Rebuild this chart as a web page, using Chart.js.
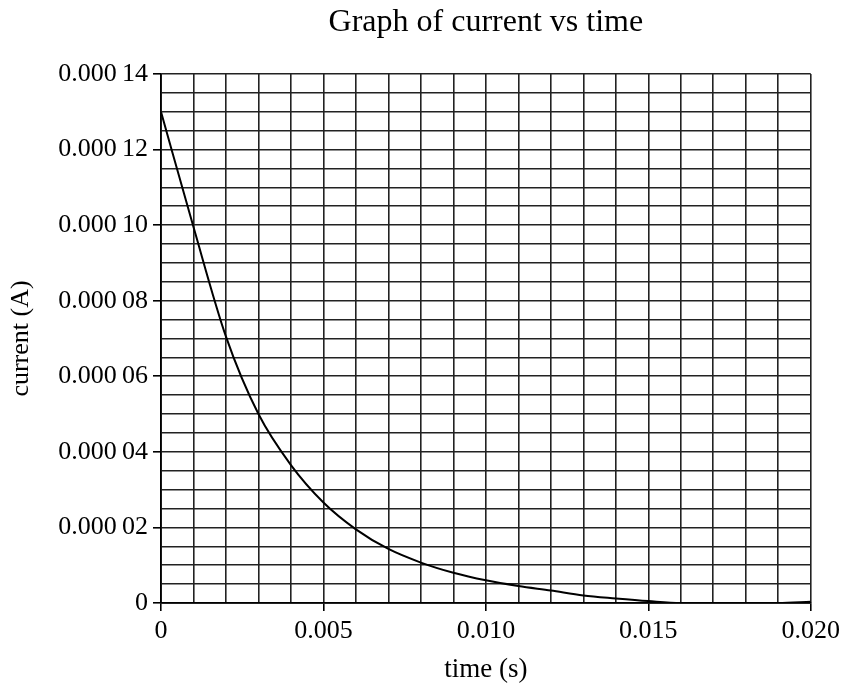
<!DOCTYPE html>
<html>
<head>
<meta charset="utf-8">
<script src="https://cdn.jsdelivr.net/npm/chart.js@4/dist/chart.umd.min.js"></script>
<style>
  html, body { margin: 0; padding: 0; background: #fff; }
  #wrap { width: 845px; height: 688px; }
</style>
</head>
<body>
<div id="wrap"><canvas id="c" width="845" height="688"></canvas></div>
<script>
// time (s)
const times = [0, 0.001, 0.002, 0.003, 0.004, 0.005, 0.006, 0.007, 0.008, 0.009, 0.010,
               0.011, 0.012, 0.013, 0.014, 0.015, 0.016, 0.017, 0.018, 0.019, 0.020];
// current (A)
const currents = [0.000130, 0.0000995, 0.0000705, 0.0000500, 0.0000365, 0.0000266, 0.0000195,
                  0.0000143, 0.0000107, 0.0000080, 0.0000060, 0.0000045, 0.0000033, 0.0000020,
                  0.0000012, 0.0000005, 0.0, 0.0, 0.0, 0.0, 0.0000003];
// tick labels
const xTickValues = [0, 0.005, 0.010, 0.015, 0.020];
const xTickLabels = ['0', '0.005', '0.010', '0.015', '0.020'];
const yTickValues = [0, 0.00002, 0.00004, 0.00006, 0.00008, 0.00010, 0.00012, 0.00014];
const yTickLabels = ['0', '0.000\u200902', '0.000\u200904', '0.000\u200906', '0.000\u200908',
                     '0.000\u200910', '0.000\u200912', '0.000\u200914'];

const SERIF = '"Liberation Serif", "Times New Roman", serif';

function findLabel(vals, labels, v, tol) {
  for (let i = 0; i < vals.length; i++) {
    if (Math.abs(vals[i] - v) < tol) return labels[i];
  }
  return null;
}

const points = times.map((t, i) => ({ x: t, y: currents[i] }));

new Chart(document.getElementById('c'), {
  type: 'line',
  data: {
    datasets: [{
      data: points,
      borderColor: '#000',
      borderWidth: 2,
      pointRadius: 0,
      fill: false,
      cubicInterpolationMode: 'monotone'
    }]
  },
  options: {
    responsive: false,
    animation: false,
    devicePixelRatio: 1,
    layout: { padding: { left: 0, right: 32, top: 0, bottom: 0 } },
    plugins: {
      legend: { display: false },
      tooltip: { enabled: false },
      title: {
        display: true,
        text: 'Graph of current vs time',
        color: '#000',
        fullSize: false,
        font: { family: SERIF, size: 32, weight: 'normal', lineHeight: 1.2 },
        padding: { top: 3, bottom: 74 - 3 - 38.4 }
      }
    },
    scales: {
      x: {
        type: 'linear',
        min: 0,
        max: 0.020,
        afterFit: (s) => { s.height = 85; },
        ticks: {
          stepSize: 0.001,
          autoSkip: false,
          maxRotation: 0,
          padding: 5,
          color: '#000',
          font: { family: SERIF, size: 26 },
          callback: (v) => findLabel(xTickValues, xTickLabels, v, 1e-7) ?? ''
        },
        grid: {
          color: '#222',
          lineWidth: 1.6,
          tickLength: 8,
          tickColor: (ctx) => (ctx.tick && findLabel(xTickValues, xTickLabels, ctx.tick.value, 1e-7) !== null) ? '#000' : 'rgba(0,0,0,0)'
        },
        border: { color: '#000', width: 1.8 },
        title: {
          display: true,
          text: 'time (s)',
          color: '#000',
          font: { family: SERIF, size: 27 },
          padding: { top: 0, bottom: 2 }
        }
      },
      y: {
        type: 'linear',
        min: 0,
        max: 0.00014,
        afterFit: (s) => { s.width = 161; },
        ticks: {
          stepSize: 0.000005,
          autoSkip: false,
          padding: 5,
          color: '#000',
          font: { family: SERIF, size: 26 },
          callback: (v) => findLabel(yTickValues, yTickLabels, v, 1e-9) ?? ''
        },
        grid: {
          color: '#222',
          lineWidth: 1.6,
          tickLength: 8,
          tickColor: (ctx) => (ctx.tick && findLabel(yTickValues, yTickLabels, ctx.tick.value, 1e-9) !== null) ? '#000' : 'rgba(0,0,0,0)'
        },
        border: { color: '#000', width: 1.8 },
        title: {
          display: true,
          text: 'current (A)',
          color: '#000',
          font: { family: SERIF, size: 26 },
          padding: { top: 6, bottom: 0 }
        }
      }
    }
  }
});
</script>
</body>
</html>
